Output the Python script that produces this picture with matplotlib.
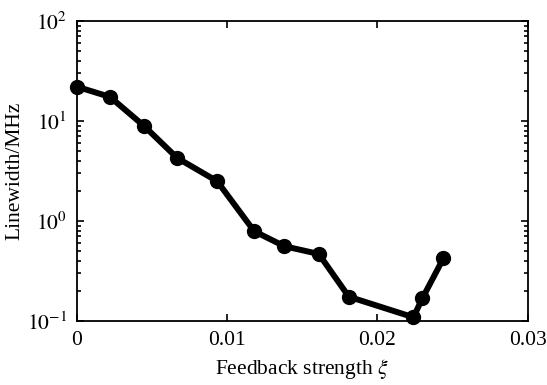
import matplotlib
matplotlib.use("Agg")
import matplotlib.pyplot as plt
import matplotlib.ticker as mticker

# Données
xi = [0.0, 0.0022, 0.00447, 0.00667, 0.00933, 0.0118, 0.0138, 0.0161, 0.0181, 0.0224, 0.0230, 0.0244]
linewidth_mhz = [22.0, 17.4, 8.9, 4.27, 2.5, 0.79, 0.56, 0.468, 0.175, 0.109, 0.169, 0.424]

xticks = [0, 0.01, 0.02, 0.03]
xticklabels = ["0", "0.01", "0.02", "0.03"]
yticks = [0.1, 1, 10, 100]
yticklabels = [r"$10^{-1}$", r"$10^{0}$", r"$10^{1}$", r"$10^{2}$"]

plt.rcParams["font.family"] = ["Liberation Serif", "DejaVu Serif"]
plt.rcParams["mathtext.fontset"] = "stix"

fig = plt.figure(figsize=(5.47, 3.85), dpi=100, facecolor="w")
ax = fig.add_axes([0.1408, 0.1662, 0.8236, 0.7793])

ax.plot(xi, linewidth_mhz, color="black", lw=4.3, marker="o", markersize=10,
        solid_joinstyle="round", clip_on=False, zorder=3)

ax.set_yscale("log")
ax.set_xlim(0, 0.03)
ax.set_ylim(0.1, 100)

ax.xaxis.set_major_locator(mticker.FixedLocator(xticks))
ax.set_xticklabels(xticklabels, fontsize=15.5)
ax.yaxis.set_major_locator(mticker.FixedLocator(yticks))
ax.set_yticklabels(yticklabels, fontsize=15.5)
ax.yaxis.set_minor_locator(mticker.LogLocator(base=10, subs=range(2, 10)))
ax.yaxis.set_minor_formatter(mticker.NullFormatter())
ax.xaxis.set_minor_locator(mticker.NullLocator())

ax.tick_params(which="both", direction="in", top=True, right=True, width=1.2)
ax.tick_params(which="major", length=5, pad=7)
ax.tick_params(which="minor", length=3)
for s in ax.spines.values():
    s.set_linewidth(1.3)

ax.set_xlabel(r"Feedback strength $\xi$", fontsize=15.5, labelpad=5)
ax.set_ylabel("Linewidth/MHz", fontsize=15.5, labelpad=2)

plt.savefig("out.png", dpi=100)
plt.close()
